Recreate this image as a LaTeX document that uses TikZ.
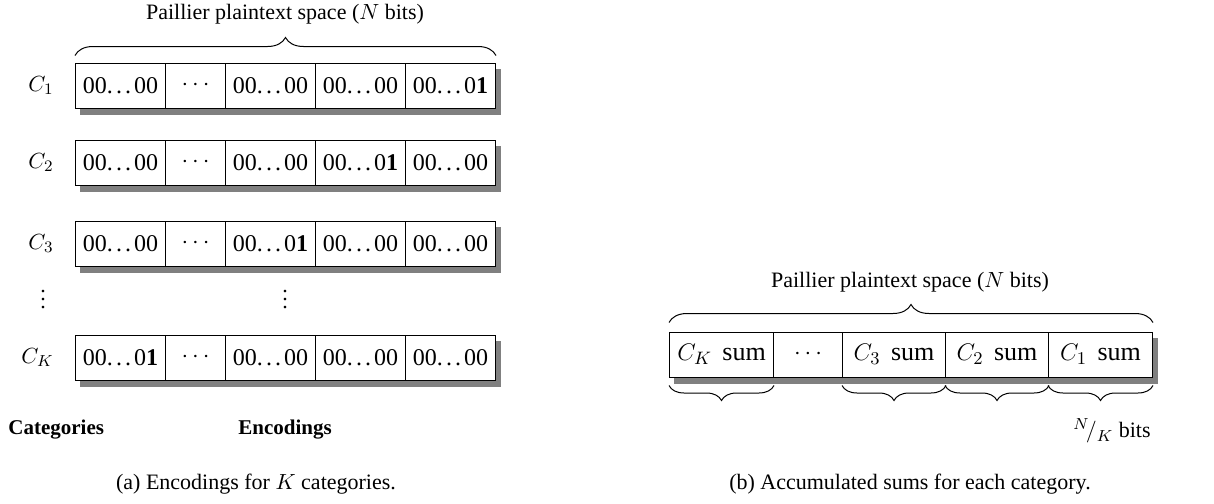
\documentclass[tikz,border=0pt]{standalone}
\usepackage{fontspec}
\setmainfont{Liberation Serif}
\usetikzlibrary{decorations.pathreplacing,backgrounds}
\definecolor{shadowgray}{gray}{0.5}
\tikzset{
  cell/.style={draw=black, line width=0.5pt, fill=white, rectangle,
    minimum height=22.5pt, inner sep=0pt, anchor=west,
    font=\fontsize{13}{15}\selectfont},
  zcell/.style={cell, font=\fontsize{12}{14}\selectfont},
  rowshadow/.style={fill=shadowgray, draw=none},
  topbrace/.style={decorate, decoration={brace, amplitude=9pt}, line width=0.5pt},
  botbrace/.style={decorate, decoration={brace, amplitude=7.5pt, mirror}, line width=0.5pt},
  lbl/.style={inner sep=0pt},
  head/.style={inner sep=0pt, font=\fontsize{10.5}{12}\selectfont\bfseries},
}
% spaced three-dot ellipsis
\newcommand{\spdots}{.\kern.13em.\kern.13em.\kern.12em}
\newcommand{\zz}{00\spdots00}
\newcommand{\zo}{00\spdots0\textbf{1}}
\newcommand{\sumof}[1]{$C_{#1}$\hspace{0.4em}sum}
\begin{document}
\begin{tikzpicture}[x=0.5pt, y=-0.5pt, font=\fontsize{11}{13}\selectfont]
\useasboundingbox (0,0) rectangle (1214,503);

% ---------- (a) one encoding per category ----------
\node[lbl] (titleA) at (285,14) {Paillier plaintext space ($N$ bits)};

% rows: name / vertical centre / label / cell texts
\foreach \r/\y/\lab/\ta/\tb/\tc/\td in
  {1/85.5/C_1/\zz/\zz/\zz/\zo,
   2/162.5/C_2/\zz/\zz/\zo/\zz,
   3/243.5/C_3/\zz/\zo/\zz/\zz,
   K/357.5/C_K/\zo/\zz/\zz/\zz}{
  \node[zcell, minimum width=45pt] (r\r-1) at (75,\y) {\ta};
  \node[zcell, minimum width=30pt] (r\r-2) at (165,\y) {$\cdots$};
  \node[zcell, minimum width=45pt] (r\r-3) at (225,\y) {\tb};
  \node[zcell, minimum width=45pt] (r\r-4) at (315,\y) {\tc};
  \node[zcell, minimum width=45pt] (r\r-5) at (405,\y) {\td};
  \begin{scope}[on background layer]
    \fill[rowshadow] ([shift={(2.5pt,-3pt)}]r\r-1.north west)
      rectangle ([shift={(2.5pt,-3pt)}]r\r-5.south east);
  \end{scope}
  \node[lbl, anchor=east] (cat\r) at (54,\y) {$\lab$};
}

\coordinate (bA1) at ([yshift=3.5pt]r1-1.north west);
\coordinate (bA2) at ([yshift=3.5pt]r1-5.north east);
\draw[topbrace] (bA1) -- (bA2);

\node[lbl] (vdA) at (43,294) {$\vdots$};
\node[lbl] (vdB) at (285,294) {$\vdots$};

\node[head, anchor=west] (cats) at (8,430) {Categories};
\node[head] (encs) at (285,430) {Encodings};
\node[lbl] (capA) at (256,484) {(a) Encodings for $K$ categories.};

% ---------- (b) packed sums ----------
\node[lbl] (titleB) at (910,282) {Paillier plaintext space ($N$ bits)};

\node[cell, minimum width=52pt]   (s1) at (669,354.5) {\sumof{K}};
\node[cell, minimum width=34.5pt] (s2) at (773,354.5) {$\cdots$};
\node[cell, minimum width=51.5pt] (s3) at (842,354.5) {\sumof{3}};
\node[cell, minimum width=51.5pt] (s4) at (945,354.5) {\sumof{2}};
\node[cell, minimum width=52pt]   (s5) at (1048,354.5) {\sumof{1}};
\begin{scope}[on background layer]
  \fill[rowshadow] ([shift={(2.5pt,-3pt)}]s1.north west)
    rectangle ([shift={(2.5pt,-3pt)}]s5.south east);
\end{scope}

\coordinate (bB1) at ([yshift=4.5pt]s1.north west);
\coordinate (bB2) at ([yshift=4.5pt]s5.north east);
\draw[topbrace] (bB1) -- (bB2);

\foreach \i in {1,3,4,5}{
  \draw[botbrace] ([yshift=-4pt]s\i.south west) -- ([yshift=-4pt]s\i.south east);
}

\node[lbl] (nk) at (1112,431) {$^{N}\!/_{K}$ bits};
\node[lbl] (capB) at (910,484) {(b) Accumulated sums for each category.};
\end{tikzpicture}
\end{document}
